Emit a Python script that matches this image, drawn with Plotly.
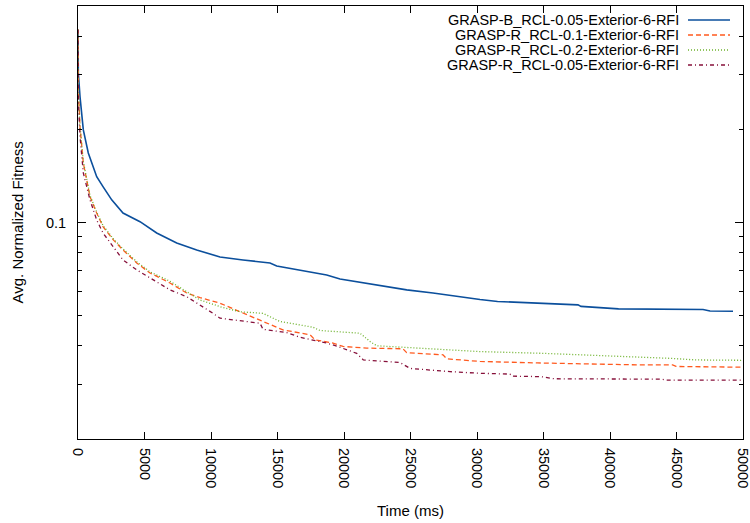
import plotly.graph_objects as go

# ---------------- data ----------------
series_names = [
    "GRASP-B_RCL-0.05-Exterior-6-RFI",
    "GRASP-R_RCL-0.1-Exterior-6-RFI",
    "GRASP-R_RCL-0.2-Exterior-6-RFI",
    "GRASP-R_RCL-0.05-Exterior-6-RFI",
]

b_t = [0, 23, 150, 278, 399, 774, 1406, 1880, 2534, 3384, 4662, 5917, 7421, 8925,
       10677, 12407, 14437, 14940, 16692, 18700, 19700, 22707, 24715, 26692, 28722,
       30226, 31544, 34813, 37595, 37820, 40640, 46994, 47520, 49250]
b_v = [0.418, 0.304, 0.255, 0.2196, 0.199, 0.1677, 0.1406, 0.1305, 0.1183, 0.1073,
       0.1006, 0.0925, 0.0859, 0.0815, 0.0774, 0.0757, 0.074, 0.0724, 0.0703, 0.0677,
       0.0657, 0.0624, 0.0606, 0.0592, 0.0575, 0.0564, 0.0556, 0.0548, 0.0542, 0.0536,
       0.0526, 0.0524, 0.0518, 0.0517]

r1_t = [0, 25, 150, 278, 399, 654, 902, 1406, 1880, 2654, 3384, 4414, 5414, 6917,
        8173, 9173, 10677, 12181, 13910, 15414, 17444, 17820, 19173, 19925, 21707,
        24437, 24715, 27444, 27722, 30226, 34542, 38610, 42166, 44708, 44963, 50000]
r1_v = [0.42, 0.27, 0.204, 0.1757, 0.1556, 0.1372, 0.1212, 0.1073, 0.097, 0.0879,
        0.0815, 0.074, 0.0687, 0.0638, 0.0592, 0.0572, 0.0549, 0.0515, 0.0479, 0.045,
        0.0434, 0.0418, 0.0408, 0.0398, 0.0393, 0.0391, 0.038, 0.0374, 0.0363, 0.0356,
        0.0352, 0.0349, 0.0347, 0.0347, 0.0343, 0.0341]

r2_t = [0, 25, 150, 278, 399, 654, 902, 1406, 1880, 2654, 3384, 4414, 5414, 6917,
        8173, 9173, 10677, 12181, 13910, 15188, 17670, 18196, 21204, 21956, 22459,
        25467, 30226, 35038, 38610, 41911, 44708, 46468, 50000]
r2_v = [0.42, 0.27, 0.205, 0.177, 0.157, 0.1385, 0.1222, 0.108, 0.0978, 0.0886,
        0.0822, 0.0747, 0.0693, 0.0646, 0.0598, 0.0562, 0.0535, 0.0515, 0.0509, 0.0479,
        0.0459, 0.0448, 0.0439, 0.0413, 0.04, 0.0394, 0.0383, 0.0378, 0.0373, 0.0368,
        0.0364, 0.036, 0.0359]

r3_t = [0, 25, 150, 278, 399, 902, 1406, 1880, 2654, 3384, 4414, 5414, 6917, 8173,
        9173, 10150, 10677, 12181, 13684, 13910, 15692, 16692, 18700, 19452, 20956,
        21452, 24211, 24963, 27970, 30226, 32482, 32632, 34813, 35791, 43911, 44211, 50000]
r3_v = [0.42, 0.25, 0.19, 0.165, 0.1445, 0.1183, 0.1019, 0.0925, 0.0836, 0.0757,
        0.0703, 0.0662, 0.0606, 0.0576, 0.0542, 0.0509, 0.0491, 0.0482, 0.0473, 0.0452,
        0.0441, 0.0426, 0.0408, 0.0399, 0.0378, 0.036, 0.0353, 0.0338, 0.033, 0.0326,
        0.0324, 0.0319, 0.0318, 0.0313, 0.0312, 0.031, 0.031]

x_ticks = [0, 5000, 10000, 15000, 20000, 25000, 30000, 35000, 40000, 45000, 50000]
x_tick_labels = [str(v) for v in x_ticks]
y_major = [0.1]
y_major_labels = ["0.1"]
y_minor = [0.03, 0.04, 0.05, 0.06, 0.07, 0.08, 0.09, 0.2, 0.3, 0.4]

# ---------------- styling ----------------
colors = ["#0b4f9c", "#ff5a1f", "#6cb12a", "#86103a"]
dashes = ["solid", "5px,3px", "1px,2px", "4px,3px,1px,3px"]
widths = [1.6, 1.3, 1.3, 1.3]
FONT = "Liberation Sans, Arial, sans-serif"

fig = go.Figure()
for name, t, v, c, d, w in zip(series_names, [b_t, r1_t, r2_t, r3_t],
                               [b_v, r1_v, r2_v, r3_v], colors, dashes, widths):
    fig.add_trace(go.Scatter(x=t, y=v, mode="lines", name=name,
                             line=dict(color=c, dash=d, width=w),
                             showlegend=False, cliponaxis=True))

axis_common = dict(showline=True, linecolor="black", linewidth=1, mirror="ticks",
                   ticks="inside", tickcolor="black", tickwidth=1, showgrid=False,
                   zeroline=False, automargin=False, ticklabeloverflow="allow",
                   tickfont=dict(family=FONT, size=14.5, color="black"))

fig.update_xaxes(range=[0, 50000], tickmode="array", tickvals=x_ticks,
                 ticktext=x_tick_labels, ticklen=7, tickangle=90,
                 ticklabelstandoff=5, **axis_common)
fig.update_yaxes(type="log", range=[-1.69897, -0.30103], tickmode="array",
                 tickvals=y_major, ticktext=y_major_labels, ticklen=8,
                 ticklabelstandoff=8,
                 minor=dict(tickmode="array", tickvals=y_minor, ticks="inside",
                            ticklen=4, tickcolor="black", tickwidth=1, showgrid=False),
                 **axis_common)

annotations = [
    dict(text="Time (ms)", xref="paper", yref="paper", x=0.5, y=-0.164,
         xanchor="center", yanchor="middle", showarrow=False,
         font=dict(family=FONT, size=15, color="black")),
    dict(text="Avg. Normalized Fitness", xref="paper", yref="paper", x=-0.0917, y=0.5,
         xanchor="center", yanchor="middle", textangle=-90, showarrow=False,
         font=dict(family=FONT, size=15, color="black")),
]
shapes = []
row_y = [0.9677, 0.933, 0.8984, 0.8637]
for name, c, d, w, ry in zip(series_names, colors, dashes, widths, row_y):
    annotations.append(dict(text=name, xref="paper", yref="paper", x=0.9068, y=ry,
                            xanchor="right", yanchor="middle", showarrow=False,
                            font=dict(family=FONT, size=14.5, color="black")))
    shapes.append(dict(type="line", xref="paper", yref="paper", x0=0.9173, x1=0.9805,
                       y0=ry, y1=ry, line=dict(color=c, dash=d, width=w)))

fig.update_layout(width=750, height=523, margin=dict(l=78, r=7, t=6, b=84),
                  plot_bgcolor="white", paper_bgcolor="white",
                  annotations=annotations, shapes=shapes, showlegend=False,
                  font=dict(family=FONT, color="black"))

fig.write_html("out.html", config={"displayModeBar": False},
               post_script="document.body.style.margin='0';document.body.style.overflow='hidden';")
